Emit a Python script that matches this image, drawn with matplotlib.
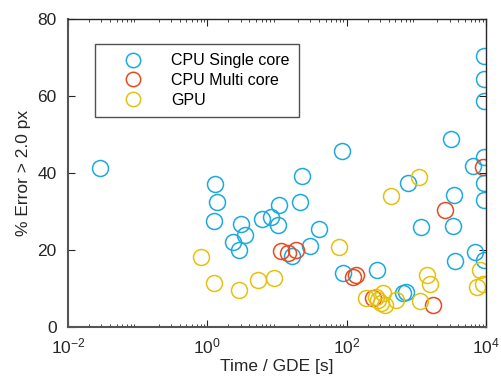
import numpy as np
import matplotlib
matplotlib.use('Agg')
import matplotlib.pyplot as plt
from matplotlib.ticker import LogLocator, NullFormatter

plt.rcParams['font.family'] = ['Liberation Sans', 'DejaVu Sans']
plt.rcParams['mathtext.fontset'] = 'custom'
plt.rcParams['mathtext.rm'] = 'Liberation Sans'
plt.rcParams['mathtext.it'] = 'Liberation Sans'

# time / GDE [s] and % error > 2.0 px
single_t = [0.0288, 1.28, 1.40, 1.23, 3.02, 3.53, 2.34, 2.86, 6.04, 8.13,
            10.6, 10.3, 22.6, 21.2, 39.7, 29.5, 16.6, 88.5, 85.7, 275,
            641, 701, 757, 1151, 3097, 3453, 3342, 3616, 6620, 7063,
            9300, 9300, 9300, 9300, 9300, 9300, 9400]
single_err = [41.3, 37.1, 32.5, 27.5, 26.8, 24.0, 22.2, 20.0, 28.1, 28.6,
              31.6, 26.6, 39.3, 32.4, 25.5, 21.0, 18.5, 14.1, 45.7, 14.8,
              8.75, 9.1, 37.5, 26.1, 48.8, 34.2, 26.2, 17.1, 41.8, 19.5,
              17.4, 37.5, 44.2, 70.4, 64.4, 58.8, 33.0]

multi_t = [11.6, 14.4, 18.6, 123, 138, 238, 1726, 2600, 9210]
multi_err = [19.7, 19.3, 20.0, 13.1, 13.4, 7.45, 5.6, 30.3, 41.6]

gpu_t = [0.80, 1.25, 2.86, 5.35, 9.19, 76.8, 437, 1088, 191, 267,
         331, 314, 351, 281, 504, 1114, 1436, 1549, 8340, 7380, 9000]
gpu_err = [18.3, 11.4, 9.6, 12.3, 12.6, 20.7, 34.0, 38.9, 7.45, 7.9,
           8.75, 6.15, 5.7, 7.0, 7.0, 6.8, 13.5, 11.2, 14.8, 10.5, 11.1]

c_single = '#1aaade'
c_multi = '#e84a1f'
c_gpu = '#e6c10c'

fig = plt.figure(figsize=(5.01, 3.87), dpi=100)
ax = fig.add_axes([0.1357, 0.155, 0.8343, 0.796])

mk = dict(marker='o', linestyle='none', markersize=11.5, markerfacecolor='none', markeredgewidth=1.1)
ax.plot(single_t, single_err, color=c_single, label='CPU Single core', **mk)
ax.plot(multi_t, multi_err, color=c_multi, label='CPU Multi core', **mk)
ax.plot(gpu_t, gpu_err, color=c_gpu, label='GPU', **mk)

ax.set_xscale('log')
ax.set_xlim(1e-2, 1e4)
ax.set_ylim(0, 80)
ax.set_xticks([1e-2, 1e0, 1e2, 1e4])
ax.set_xticklabels([r'$\mathregular{10^{-2}}$', r'$\mathregular{10^{0}}$',
                    r'$\mathregular{10^{2}}$', r'$\mathregular{10^{4}}$'])
ax.xaxis.set_minor_locator(LogLocator(base=10, subs=np.arange(2, 10), numticks=20))
ax.xaxis.set_minor_formatter(NullFormatter())
ax.set_yticks([0, 20, 40, 60, 80])

ax.tick_params(which='both', direction='in', top=True, right=True, labelsize=12.5, colors='#262626')
ax.tick_params(which='major', length=5, width=0.8)
ax.tick_params(which='minor', length=2.5, width=0.6)
ax.tick_params(axis='x', which='major', pad=7)
ax.tick_params(axis='y', which='major', pad=8)
for s in ax.spines.values():
    s.set_color('#262626')
    s.set_linewidth(1.0)
ax.spines['left'].set_color('#555555')
ax.spines['left'].set_linewidth(1.5)
ax.spines['bottom'].set_color('#555555')
ax.spines['bottom'].set_linewidth(1.5)

ax.set_xlabel('Time / GDE [s]', fontsize=12.5, color='#262626', labelpad=2)
ax.set_ylabel('% Error > 2.0 px', fontsize=12.5, color='#262626', labelpad=5)

leg = ax.legend(loc='upper left', bbox_to_anchor=(0.065, 0.92), fontsize=11.5,
                frameon=True, fancybox=False, edgecolor='#262626',
                handlelength=3.6, handletextpad=0.55, borderpad=0.6,
                labelspacing=0.3, borderaxespad=0, markerscale=0.9)
leg.get_frame().set_linewidth(1.0)

fig.savefig('out.png', dpi=100)
